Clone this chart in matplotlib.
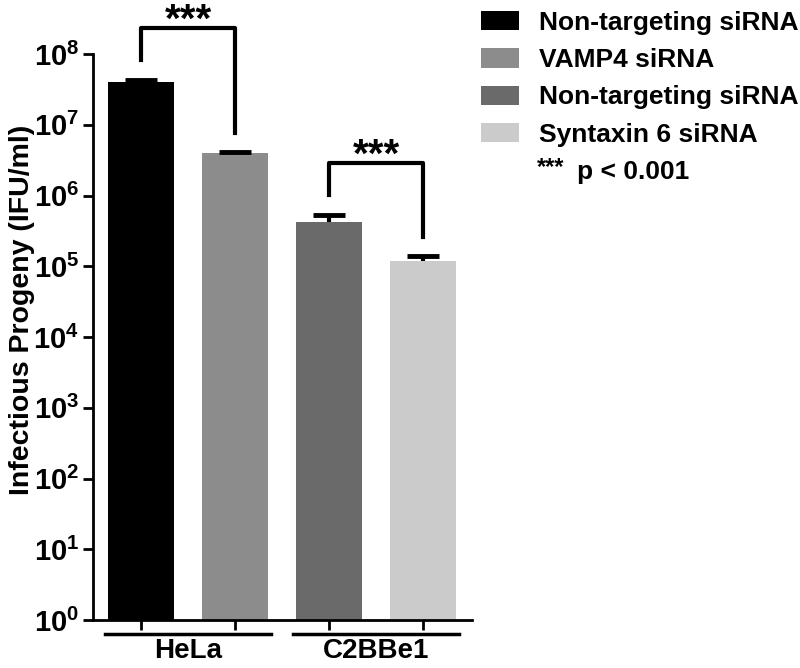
import matplotlib
matplotlib.use('Agg')
import matplotlib.pyplot as plt
import numpy as np
from matplotlib.patches import Patch

plt.rcParams['font.family'] = ['Liberation Sans', 'DejaVu Sans']
plt.rcParams['font.weight'] = 'bold'
plt.rcParams['mathtext.fontset'] = 'custom'
plt.rcParams['mathtext.rm'] = 'Liberation Sans:bold'
plt.rcParams['mathtext.it'] = 'Liberation Sans:bold'
plt.rcParams['mathtext.bf'] = 'Liberation Sans:bold'

# data
labels = ['Non-targeting siRNA', 'VAMP4 siRNA', 'Non-targeting siRNA', 'Syntaxin 6 siRNA']
values = [4.0e7, 4.0e6, 4.2e5, 1.18e5]
errors = [0.3e7, 0.15e6, 1.1e5, 0.22e5]
colors = ['#000000', '#8c8c8c', '#6a6a6a', '#cbcbcb']
groups = ['HeLa', 'C2BBe1']
pairs = [(0, 1), (2, 3)]
ytick_exp = [0, 1, 2, 3, 4, 5, 6, 7, 8]

fig = plt.figure(figsize=(8, 6.68), dpi=100)
ax = fig.add_axes([93/800, 1-620/668, (472-93)/800, (620-54)/668])

x = np.arange(len(values))
vals = np.array(values)
errs = np.array(errors)
ax.bar(x, vals, width=0.71, color=colors, zorder=2)
# upper error bars only
ax.vlines(x, vals, vals + errs, color='black', lw=3, zorder=3)
ax.hlines(vals + errs, x - 0.17, x + 0.17, color='black', lw=3.5, zorder=3)

ax.set_yscale('log')
ax.set_ylim(1, 1e8)
ax.set_xlim(-0.51, 3.52)
ax.set_yticks([10.0**e for e in ytick_exp])
ax.set_yticklabels([r'$10^{%d}$' % e for e in ytick_exp], fontsize=21)
ax.yaxis.set_minor_locator(matplotlib.ticker.NullLocator())
ax.set_xticks(x)
ax.set_xticklabels([])
ax.tick_params(axis='both', width=2, length=7, color='black')
ax.tick_params(axis='y', pad=3)
for s in ['top', 'right']:
    ax.spines[s].set_visible(False)
for s in ['left', 'bottom']:
    ax.spines[s].set_linewidth(2)
ax.set_ylabel('Infectious Progeny (IFU/ml)', fontsize=20.5, fontweight='bold')
ax.yaxis.set_label_coords(-0.152, 0.548)

# significance brackets
for a, b in pairs:
    ta = (values[a] + errors[a]) * 1.9
    tb = (values[b] + errors[b]) * 1.85
    top = max(values[a] + errors[a], values[b] + errors[b]) * 5.5
    ax.plot([a, a, b, b], [ta, top, top, tb], color='black', lw=3,
            clip_on=False, solid_joinstyle='round', zorder=4)
    ax.annotate('***', xy=((a + b) / 2, top), xytext=(0, -9), textcoords='offset points',
                ha='center', va='bottom', fontsize=29, fontweight='bold',
                annotation_clip=False)

# group labels below the axis
for i, (a, b) in enumerate(pairs):
    ax.plot([a - 0.38, b + 0.38], [0.63, 0.63], color='black', lw=2.5, clip_on=False)
    ax.text((a + b) / 2, 0.55, groups[i], ha='center', va='top',
            fontsize=20, fontweight='bold')

handles = [Patch(facecolor=c, edgecolor='none') for c in colors]
fig.legend(handles, labels, loc='upper left', bbox_to_anchor=(481/800, 1 - 11/668),
           frameon=False, fontsize=19, handlelength=1.45, handleheight=0.75,
           labelspacing=0.5, handletextpad=0.75, borderpad=0, borderaxespad=0)
fig.text(537/800, 1 - 168/668, '***', fontsize=17, fontweight='bold',
         va='center', ha='left')
fig.text(577/800, 1 - 172/668, 'p < 0.001', fontsize=19, fontweight='bold',
         va='center', ha='left')

fig.savefig('out.png', dpi=100)
